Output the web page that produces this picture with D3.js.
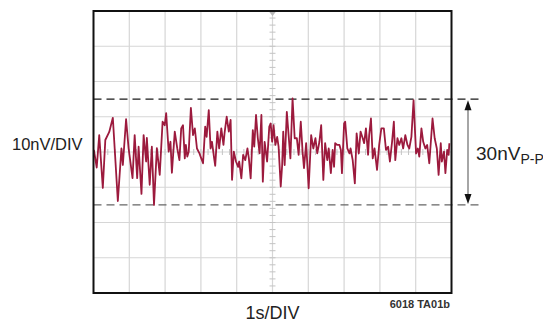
<!DOCTYPE html>
<html>
<head>
<meta charset="utf-8">
<script src="https://cdn.jsdelivr.net/npm/d3@7"></script>
<style>
  body { margin: 0; background: #fff; }
  svg { display: block; }
</style>
</head>
<body>
<div id="chart"></div>
<script>
// noise trace, time in seconds, value in nV
const times = [
  0.01, 0.09, 0.16, 0.26, 0.33, 0.44, 0.54, 0.68, 0.78, 0.82, 0.91, 0.98,
  1.09, 1.15, 1.22, 1.26, 1.34, 1.40, 1.47, 1.49, 1.57, 1.63, 1.69, 1.77,
  1.85, 1.93, 1.99, 2.03, 2.10, 2.15, 2.19, 2.27, 2.34, 2.40, 2.45, 2.50,
  2.55, 2.58, 2.62, 2.66, 2.72, 2.78, 2.83, 2.89, 2.96, 3.01, 3.06, 3.12,
  3.16, 3.22, 3.27, 3.31, 3.37, 3.40, 3.46, 3.51, 3.57, 3.63, 3.66, 3.72,
  3.78, 3.83, 3.87, 3.92, 3.98, 4.04, 4.07, 4.13, 4.18, 4.24, 4.30, 4.34,
  4.39, 4.45, 4.49, 4.54, 4.59, 4.64, 4.69, 4.73, 4.78, 4.85, 4.91, 4.95,
  4.99, 5.03, 5.08, 5.13, 5.17, 5.23, 5.27, 5.30, 5.34, 5.40, 5.45, 5.50,
  5.56, 5.62, 5.68, 5.73, 5.79, 5.84, 5.88, 5.94, 6.01, 6.08, 6.14, 6.20,
  6.25, 6.31, 6.36, 6.42, 6.47, 6.53, 6.57, 6.63, 6.68, 6.72, 6.75, 6.81,
  6.87, 6.91, 6.94, 7.00, 7.03, 7.09, 7.15, 7.18, 7.24, 7.30, 7.35, 7.41,
  7.46, 7.52, 7.56, 7.61, 7.67, 7.70, 7.75, 7.80, 7.85, 7.92, 7.98, 8.04,
  8.11, 8.17, 8.23, 8.28, 8.34, 8.39, 8.43, 8.49, 8.54, 8.60, 8.65, 8.71,
  8.77, 8.82, 8.88, 8.94, 9.01, 9.06, 9.10, 9.16, 9.21, 9.27, 9.32, 9.38,
  9.47, 9.53, 9.59, 9.64, 9.70, 9.73, 9.79, 9.83, 9.88, 9.92, 9.94
];
const noise = [
  0.6, -4.4, 4.8, -10.2, 3.4, 5.7, 9.7, -13.9, 1.0, -3.7, 9.3, 1.1,
  -7.4, 4.8, -7.4, 1.5, -11.9, 4.8, -2.7, 4.0, -9.3, 1.5, -15.0, 1.1,
  -6.5, 8.6, 7.6, 11.0, 0.1, 2.9, -5.9, 5.8, 1.0, -2.3, 6.7, 7.6,
  -1.8, 2.0, -1.3, 0.1, 12.5, 4.8, 6.7, 1.0, -0.4, -1.8, -3.2, 7.2,
  4.3, 11.9, 1.0, 2.9, -1.8, -3.9, 5.8, 1.0, 6.7, 2.0, 5.3, 10.0,
  5.8, 9.1, -7.9, 0.1, -2.7, -4.2, -2.7, -7.5, -0.8, -2.3, 1.0, -1.8,
  -7.5, 6.2, 1.5, 10.5, 3.9, -0.4, 10.5, -8.4, 2.9, -2.7, 7.2, 8.1,
  2.9, 7.6, 2.0, 4.3, 1.5, -9.8, -3.7, 5.8, -3.7, 11.4, 4.8, -1.8,
  15.2, 3.9, 3.9, -0.8, 8.6, 0.1, -4.6, 2.5, -10.3, 4.8, 1.0, 3.9,
  -0.4, 2.9, 7.6, -7.9, 2.5, -2.3, 1.0, -6.0, 0.6, -4.2, 2.5, 2.0,
  2.0, 0.6, -6.0, 8.1, 8.6, 1.0, -0.4, 1.0, -2.3, -8.9, 5.3, -0.4,
  5.8, 3.9, 2.5, 6.7, -0.8, 4.8, 9.5, -1.8, 1.0, -5.1, 2.0, 6.7,
  6.7, 0.6, 1.5, -2.7, 2.9, 8.6, -2.3, 3.9, 2.0, 3.9, 1.0, 4.8,
  2.0, 1.0, 4.3, 14.7, -0.4, 1.0, -1.3, 6.7, 2.9, 1.0, 2.0, -3.2,
  9.5, 3.9, 1.0, -6.5, 2.5, -2.7, 0.1, -6.0, 0.6, -0.8, 2.5
];

const xDivs = d3.range(0, 11);          // 1 s per division
const yDivs = d3.range(-40, 41, 10);    // 10 nV per division
const peakLevels = [15, -15];           // 30 nV peak-to-peak

const width = 543, height = 323;
const plotL = 93.5, plotR = 451.5, plotT = 11, plotB = 293;

const x = d3.scaleLinear().domain([0, 10]).range([plotL, plotR]);
const y = d3.scaleLinear().domain([-40, 40]).range([plotB, plotT]);

const svg = d3.select('#chart').append('svg')
  .attr('width', width)
  .attr('height', height);

// grid
svg.append('g').selectAll('line')
  .data(xDivs.slice(1, -1))
  .join('line')
  .attr('x1', d => x(d)).attr('x2', d => x(d))
  .attr('y1', plotT).attr('y2', plotB)
  .attr('stroke', '#d6d6d6')
  .attr('stroke-width', 1.2);

svg.append('g').selectAll('line')
  .data(yDivs.slice(1, -1))
  .join('line')
  .attr('x1', plotL).attr('x2', plotR)
  .attr('y1', d => y(d)).attr('y2', d => y(d))
  .attr('stroke', '#d6d6d6')
  .attr('stroke-width', 1.2);

// minor ticks on the centre lines
const minorY = d3.range(-40, 40.01, 2);
svg.append('g').selectAll('line')
  .data(minorY)
  .join('line')
  .attr('x1', x(5) - 3).attr('x2', x(5) + 3)
  .attr('y1', d => y(d)).attr('y2', d => y(d))
  .attr('stroke', '#c4c4c4');

const minorX = d3.range(0, 10.01, 0.2);
svg.append('g').selectAll('line')
  .data(minorX)
  .join('line')
  .attr('x1', d => x(d)).attr('x2', d => x(d))
  .attr('y1', y(0) - 3).attr('y2', y(0) + 3)
  .attr('stroke', '#c4c4c4');

svg.append('path')
  .attr('d', `M${x(5) - 4},${plotT}L${x(5) + 4},${plotT}L${x(5)},${plotT + 5}Z`)
  .attr('fill', '#b8b8b8');

// peak-to-peak dashed levels
svg.append('g').selectAll('line')
  .data(peakLevels)
  .join('line')
  .attr('x1', plotL).attr('x2', 482)
  .attr('y1', d => y(d)).attr('y2', d => y(d))
  .attr('stroke', (d, i) => i === 0 ? '#1a1a1a' : '#666')
  .attr('stroke-width', 1.4)
  .attr('stroke-dasharray', '8,5');

// trace
const pts = times.map((t, i) => [t, noise[i]]);
svg.append('path')
  .datum(pts)
  .attr('fill', 'none')
  .attr('stroke', '#9c1a3d')
  .attr('stroke-width', 1.8)
  .attr('stroke-linejoin', 'round')
  .attr('d', d3.line().x(d => x(d[0])).y(d => y(d[1])));

// frame
svg.append('rect')
  .attr('x', plotL).attr('y', plotT)
  .attr('width', plotR - plotL).attr('height', plotB - plotT)
  .attr('fill', 'none')
  .attr('stroke', '#111')
  .attr('stroke-width', 2);

// double arrow
const ax = 468;
svg.append('line')
  .attr('x1', ax).attr('x2', ax)
  .attr('y1', y(15) + 8).attr('y2', y(-15) - 8)
  .attr('stroke', '#888')
  .attr('stroke-width', 1.5);
svg.append('path')
  .attr('d', `M${ax},${y(15) + 1}L${ax - 3.5},${y(15) + 11}L${ax + 3.5},${y(15) + 11}Z`)
  .attr('fill', '#111');
svg.append('path')
  .attr('d', `M${ax},${y(-15) - 1}L${ax - 3.5},${y(-15) - 11}L${ax + 3.5},${y(-15) - 11}Z`)
  .attr('fill', '#111');

// labels
const textColor = '#222';
svg.append('text')
  .attr('x', 12).attr('y', 150)
  .style('font-family', 'Liberation Sans, Arial, sans-serif')
  .style('font-size', '16.5px')
  .style('fill', textColor)
  .text('10nV/DIV');

svg.append('text')
  .attr('x', x(5)).attr('y', 319)
  .attr('text-anchor', 'middle')
  .style('font-family', 'Liberation Sans, Arial, sans-serif')
  .style('font-size', '18px')
  .style('fill', textColor)
  .text('1s/DIV');

const pp = svg.append('text')
  .attr('x', 476).attr('y', 160)
  .style('font-family', 'Liberation Sans Narrow, Arial Narrow, sans-serif')
  .style('font-size', '19px')
  .style('fill', textColor);
pp.append('tspan').text('30nV');
pp.append('tspan')
  .attr('dy', 3.5)
  .style('font-family', 'Liberation Sans, Arial, sans-serif')
  .style('font-size', '14px')
  .text('P-P');

svg.append('text')
  .attr('x', 450).attr('y', 308)
  .attr('text-anchor', 'end')
  .style('font-family', 'Liberation Sans Narrow, Arial Narrow, sans-serif')
  .style('font-size', '11px')
  .style('font-weight', 'bold')
  .style('fill', '#333')
  .text('6018 TA01b');
</script>
</body>
</html>
